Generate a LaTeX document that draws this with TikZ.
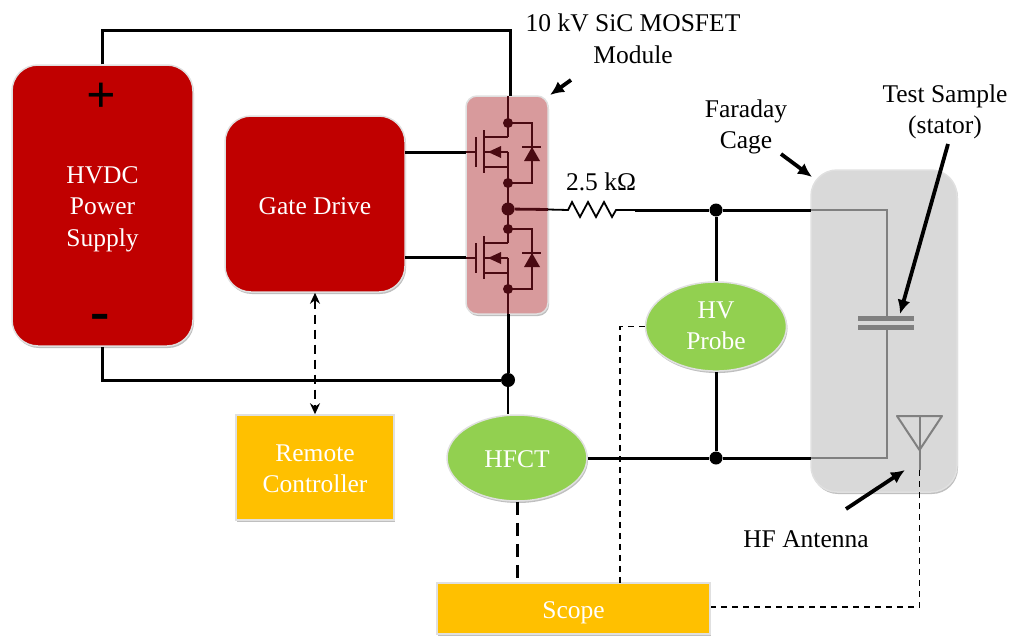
\documentclass[tikz,border=0pt]{standalone}
\usepackage{xcolor}
\usepackage{amsmath,amssymb}
\usepackage{fontspec}
\setmainfont{Liberation Serif}
\usepackage{tikz}
\usetikzlibrary{arrows.meta,positioning,shapes.geometric,shadows}
\definecolor{supplyred}{HTML}{C00000}
\definecolor{modulepink}{HTML}{D89A9C}
\definecolor{modulewire}{HTML}{4A0A12}
\definecolor{cagegray}{HTML}{D9D9D9}
\definecolor{innergray}{HTML}{808080}
\definecolor{probegreen}{HTML}{92D050}
\definecolor{scopeamber}{HTML}{FFC000}
\newcommand{\nudge}[2]{\raisebox{-#1}[\height][\depth]{#2}}
\newcommand{\lines}[1]{\begin{tabular}{@{}c@{}}#1\end{tabular}}

\begin{document}
\begin{tikzpicture}[
  x=1pt, y=-1pt,
  font=\fontsize{25.5}{31.5}\selectfont,
  softedge/.style={draw=black!12, line width=1.5pt, drop shadow={shadow xshift=1pt, shadow yshift=-2pt, opacity=.25, fill=black}},
  block/.style={softedge, rounded corners=26pt, fill=supplyred, text=white, align=center},
  amberbox/.style={softedge, fill=scopeamber, text=white, align=center},
  sensor/.style={softedge, ellipse, fill=probegreen, text=white, align=center, inner sep=0pt},
  dot/.style={circle, fill=black, inner sep=0pt, minimum size=14pt},
  mdot/.style={circle, fill=modulewire, inner sep=0pt, minimum size=#1},
  wire/.style={line width=3pt, draw=black},
  thinwire/.style={line width=1.8pt, draw=black},
  mwire/.style={line width=2.8pt, draw=modulewire},
  cagewire/.style={line width=2.6pt, draw=innergray},
  probedash/.style={line width=1.8pt, draw=black, dash pattern=on 6pt off 5pt},
  signaldash/.style={line width=3pt, draw=black, dash pattern=on 13pt off 8pt},
  pointer/.style={-{Latex[length=14pt,width=13pt]}, line width=3.8pt, draw=black},
  caption/.style={align=center, text=black, inner sep=0pt}
]
\useasboundingbox (0,0) rectangle (1014,637);

% blocks
\node[block, minimum width=181pt, minimum height=281pt] (supply) at (102.5,205.5) {\nudge{3pt}{\lines{HVDC\\Power\\Supply}}};
\node[block, minimum width=180pt, minimum height=176pt] (gate) at (315,204) {\nudge{2pt}{Gate Drive}};
\node[softedge, rounded corners=11pt, fill=modulepink, minimum width=82pt, minimum height=218pt] (module) at (507,205) {};
\node[softedge, rounded corners=26pt, fill=cagegray, minimum width=146pt, minimum height=322pt] (cage) at (884,331) {};
\node[amberbox, minimum width=158pt, minimum height=105pt] (remote) at (315,467.5) {\nudge{3pt}{\lines{Remote\\Controller}}};
\node[amberbox, minimum width=273pt, minimum height=51pt] (scope) at (573.5,608.5) {\nudge{4pt}{Scope}};
\node[sensor, minimum width=140pt, minimum height=86pt] (hfct) at (517,458) {\nudge{1pt}{HFCT}};
\node[sensor, minimum width=141pt, minimum height=87pt] (probe) at (716,326.5) {\nudge{1pt}{\lines{HV\\Probe}}};

% polarity marks
\node[inner sep=0pt, font=\bfseries\fontsize{52}{52}\selectfont] (plus) at (101,98) {+};
\node[inner sep=0pt, font=\bfseries\fontsize{58}{58}\selectfont] (minus) at (100,322) {-};

% captions
\node[caption] (modulelabel) at (633,39) {10 kV SiC MOSFET\\Module};
\node[caption] (faraday) at (746,127) {Faraday\\Cage};
\node[caption] (sample) at (945,112) {Test Sample\\(stator)};
\node[caption] (antennalabel) at (806,539) {HF Antenna};
\node[caption] (ohm) at (601,182) {2.5 kΩ};

% module inside
\foreach \dy/\name in {0/up, 106/low} {
  \begin{scope}[yshift=-\dy pt]
    \draw[mwire] (476,137) -- (476,167);
    \draw[mwire] (484,130) -- (484,173);
    \draw[mwire] (484,137) -- (508,137);
    \draw[mwire] (484,167) -- (508,167);
    \draw[mwire] (508,152) -- (500,152);
    \draw[mwire] (484,152) -- (494,152);
    \fill[modulewire] (488,152) -- (501,146) -- (501,158) -- cycle;
    \draw[mwire] (508,123) -- (532,123) -- (532,183) -- (508,183);
    \draw[mwire] (522,147) -- (541,147);
    \fill[modulewire] (532,147) -- (540,161) -- (524,161) -- cycle;
    \node[mdot=10pt] (top\name) at (508,123) {};
    \node[mdot=10pt] (bot\name) at (508,183) {};
    \coordinate (gate\name) at (476,152);
  \end{scope}
}
\node[mdot=13pt] (mid) at (508,209) {};
\draw[mwire] (508,96) -- (508,137);
\draw[mwire] (508,152) -- (508,243);
\draw[mwire] (508,258) -- (508,314);

% power wiring
\coordinate (topleft) at (supply.north |- 0,30);
\coordinate (topright) at (510,30);
\coordinate (botleft) at (supply.south |- 0,380);
\node[dot] (jbus) at (508,380) {};
\node[dot, minimum size=13pt] (jhigh) at (716,210) {};
\node[dot, minimum size=13pt] (jlow) at (716,458) {};
\coordinate (cagein) at (811,210);
\coordinate (cagelow) at (811,458);
\coordinate (resl) at (568,210);
\coordinate (resr) at (616,210);
\coordinate (resout) at (635,210);

\draw[wire] (supply.north) -- (topleft) -- (topright) -- (510,96);
\draw[wire] (supply.south) -- (botleft) -- (jbus);
\draw[wire] (508,314) -- (jbus);
\draw[thinwire] (jbus) -- (hfct.north -| jbus);
\draw[wire] (405,152) -- (466,152);
\draw[wire] (405,257) -- (466,257);
\draw[mwire] (466,152) -- (gateup);
\draw[mwire] (466,258) -- (gatelow);
\draw[mwire] (mid) -- (548,209.5);
\draw[thinwire] (548,209.5) -- (resl) -- (572,202) -- (580,217) -- (588,202) -- (596,217) -- (604,202) -- (612,217) -- (resr) -- (resout);
\draw[wire] (resout) -- (jhigh) -- (cagein);
\draw[wire] (jhigh) -- (probe.north);
\draw[wire] (probe.south) -- (jlow);
\draw[wire] (hfct.east) -- (jlow) -- (cagelow);

% inside the cage
\coordinate (capup) at (887,318);
\coordinate (capdown) at (887,327);
\draw[cagewire] (cagein) -- (887,210) -- (capup);
\draw[cagewire] (cagelow) -- (887,458) -- (capdown);
\draw[innergray, line width=5pt] (858,318) -- (914,318);
\draw[innergray, line width=5pt] (858,327) -- (914,327);
\draw[innergray, line width=2pt, line join=round] (897,416) -- (942,416) -- (919.5,450) -- cycle;
\draw[innergray, line width=2pt] (919.5,416) -- (919.5,470);

% signals
\coordinate (antennaend) at (919.5,470);
\coordinate (antennabend) at (919.5,607);
\coordinate (probeport) at (620,583);
\draw[probedash] (antennaend) -- (antennabend) -- (scope.east |- antennabend);
\draw[probedash] (probe.west) -| (probeport);
\draw[signaldash] (hfct.south) -- (hfct.south |- scope.north);
\draw[{Stealth[length=11pt,width=10pt]}-{Stealth[length=11pt,width=10pt]}, signaldash, line width=2.6pt, dash pattern=on 9pt off 6pt] (gate.south) -- (remote.north);

% pointers
\coordinate (modulearrow) at (571,80);
\coordinate (cagearrow) at (781,154);
\coordinate (samplearrow) at (948,144);
\coordinate (antennaarrow) at (846,509);
\draw[pointer] (modulearrow) -- (550,95);
\draw[pointer] (cagearrow) -- (812,177);
\draw[pointer] (samplearrow) -- (900,314);
\draw[pointer] (antennaarrow) -- (905,470);
\end{tikzpicture}
\end{document}
